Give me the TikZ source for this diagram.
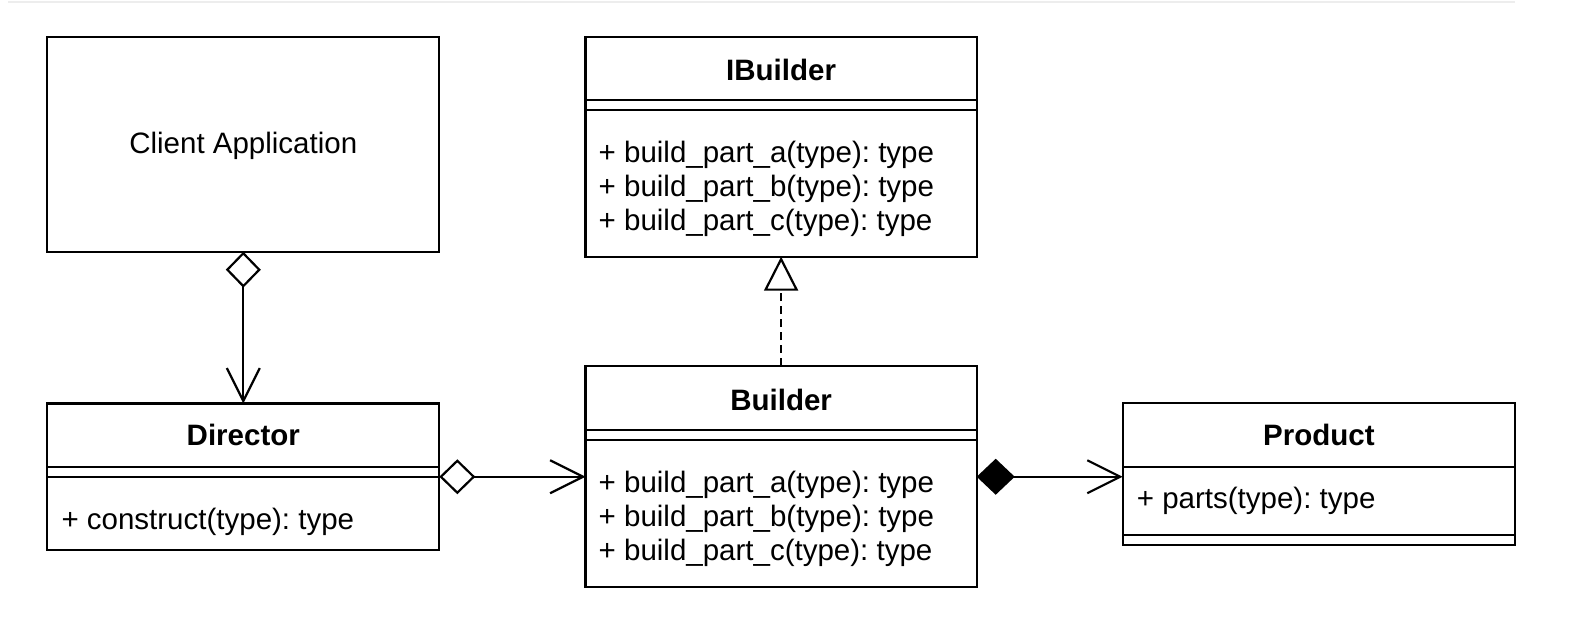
\documentclass[tikz,border=0pt]{standalone}
\usepackage{fontspec}
\setmainfont{Liberation Sans}
\usetikzlibrary{arrows.meta}
\frenchspacing
\begin{document}
\begin{tikzpicture}[x=1pt,y=-1pt,
  umlbox/.style={draw=black, line width=2.2pt, rectangle, inner sep=0pt, outer sep=0pt, anchor=north west, fill=white},
  ttl/.style={font=\fontsize{29.5}{35}\selectfont\bfseries, inner sep=0pt, anchor=base},
  mth/.style={font=\fontsize{29.5}{35}\selectfont, inner sep=0pt, anchor=base west},
  plain/.style={font=\fontsize{29.5}{35}\selectfont, inner sep=0pt, anchor=base},
  sepline/.style={draw=black, line width=2.2pt},
  conn/.style={draw=black, line width=2.2pt, line join=miter},
  assoc/.style={conn, -{Straight Barb[length=33pt,width=33pt]}},
  aggr/.style={conn, {Diamond[open,length=36pt,width=35pt]}-{Straight Barb[length=33pt,width=33pt]}},
  compo/.style={conn, {Diamond[length=38pt,width=36pt]}-{Straight Barb[length=33pt,width=33pt]}},
  realize/.style={conn, dash pattern=on 8pt off 5pt, -{Triangle[open,length=34pt,width=34pt]}}
]
\useasboundingbox (0,0) rectangle (1576,628);
\draw[draw=black!7, line width=1.5pt] (8,2) -- (1515,2);

% Client Application
\node[umlbox, minimum width=392pt, minimum height=215pt] (client) at (47.3,36.7) {};
\node[plain] (clienttxt) at (client.north |- 0,153.3) {Client Application};

% IBuilder
\node[umlbox, minimum width=391.2pt, minimum height=220pt] (ibuilder) at (585.5,36.7) {};
\draw[sepline] (ibuilder.west |- 0,100) -- (ibuilder.east |- 0,100);
\draw[sepline] (ibuilder.west |- 0,110) -- (ibuilder.east |- 0,110);
\node[ttl] (ibuildert) at (ibuilder.north |- 0,80.7) {IBuilder};
\node[mth] (ib1) at ([xshift=13pt]ibuilder.west |- 0,162.7) {+ build\_part\_a(type): type};
\node[mth] (ib2) at ([xshift=13pt]ibuilder.west |- 0,196.7) {+ build\_part\_b(type): type};
\node[mth] (ib3) at ([xshift=13pt]ibuilder.west |- 0,230.7) {+ build\_part\_c(type): type};

% Director
\node[umlbox, minimum width=392pt, minimum height=146.5pt] (director) at (47.3,403.5) {};
\draw[sepline] (director.west |- 0,466.7) -- (director.east |- 0,466.7);
\draw[sepline] (director.west |- 0,476.7) -- (director.east |- 0,476.7);
\node[ttl] (directort) at (director.north |- 0,445) {Director};
\node[mth] (dir1) at ([xshift=14pt]director.west |- 0,529.3) {+ construct(type): type};

% Builder
\node[umlbox, minimum width=391.2pt, minimum height=220.7pt] (builder) at (585.5,366) {};
\draw[sepline] (builder.west |- 0,430) -- (builder.east |- 0,430);
\draw[sepline] (builder.west |- 0,440) -- (builder.east |- 0,440);
\node[ttl] (buildert) at (builder.north |- 0,410) {Builder};
\node[mth] (b1) at ([xshift=13pt]builder.west |- 0,492.3) {+ build\_part\_a(type): type};
\node[mth] (b2) at ([xshift=13pt]builder.west |- 0,526.3) {+ build\_part\_b(type): type};
\node[mth] (b3) at ([xshift=13pt]builder.west |- 0,560.3) {+ build\_part\_c(type): type};

% Product
\node[umlbox, minimum width=392.3pt, minimum height=141.7pt] (product) at (1122.7,403.3) {};
\draw[sepline] (product.west |- 0,466.7) -- (product.east |- 0,466.7);
\draw[sepline] (product.west |- 0,535) -- (product.east |- 0,535);
\node[ttl] (productt) at (product.north |- 0,445) {Product};
\node[mth] (p1) at ([xshift=14pt]product.west |- 0,508) {+ parts(type): type};

% Connectors
\draw[aggr] (client.south) -- (client.south |- director.north);
\draw[aggr] (director.east) -- (director.east -| builder.west);
\draw[compo] (builder.east |- director.east) -- (director.east -| product.west);
\draw[realize] (builder.north) -- (ibuilder.south);
\end{tikzpicture}
\end{document}
